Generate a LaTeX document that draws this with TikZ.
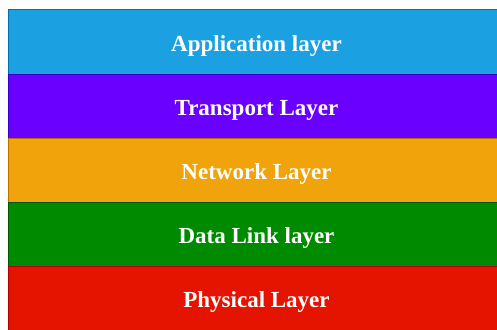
\documentclass[tikz,border=0pt]{standalone}
\usepackage{fontspec}
\setmainfont{Liberation Serif}
\usepackage{tikz}
\usetikzlibrary{positioning}

\definecolor{appfill}{HTML}{1BA1E2}
\definecolor{appline}{HTML}{006EAF}
\definecolor{trafill}{HTML}{6A00FF}
\definecolor{traline}{HTML}{3700CC}
\definecolor{netfill}{HTML}{F0A30A}
\definecolor{netline}{HTML}{BD7000}
\definecolor{dlfill}{HTML}{008A00}
\definecolor{dlline}{HTML}{005700}
\definecolor{phyfill}{HTML}{E51400}
\definecolor{phyline}{HTML}{B20000}

\begin{document}
\begin{tikzpicture}[x=1pt, y=1pt,
    layer/.style={rectangle, draw, line width=1pt, minimum width=497pt, minimum height=64pt,
        inner sep=0pt, outer sep=0pt, text height=19pt, text depth=0pt, text=white,
        font=\fontsize{23}{26}\selectfont\bfseries}]
    \useasboundingbox (0,0) rectangle (497,-329);
    \fill[white] (0,0) rectangle (497,-329);
    \node[layer, fill=appfill, draw=appline, anchor=north west] (app) at (8,-10) {Application layer};
    \node[layer, fill=trafill, draw=traline, below=0pt of app] (tra) {Transport Layer};
    \node[layer, fill=netfill, draw=netline, below=0pt of tra] (net) {Network Layer};
    \node[layer, fill=dlfill, draw=dlline, below=0pt of net] (dl) {Data Link layer};
    \node[layer, fill=phyfill, draw=phyline, below=0pt of dl] (phy) {Physical Layer};
\end{tikzpicture}
\end{document}
